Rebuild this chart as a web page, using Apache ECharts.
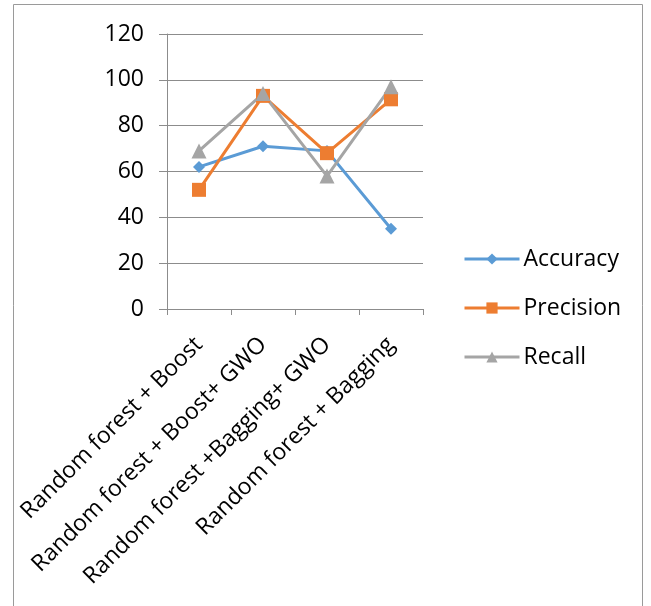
<!DOCTYPE html>
<html>
<head>
<meta charset="utf-8">
<script src="https://cdn.jsdelivr.net/npm/echarts@6/dist/echarts.min.js"></script>
<style>
  html, body { margin: 0; padding: 0; background: #fff; }
  #chart { width: 651px; height: 606px; }
</style>
</head>
<body>
<div id="chart"></div>
<script>
// Model combinations on the category axis
const categories = [
  'Random forest + Boost',
  'Random forest + Boost+ GWO',
  'Random forest +Bagging+ GWO',
  'Random forest + Bagging'
];
// Scores (%) per model combination
const accuracy = [62, 71, 69, 35];
const precision = [52, 93, 68, 91.5];
const recall = [69, 94, 58, 97];
// Value axis ticks
const yMin = 0, yMax = 120, yStep = 20;

const FONT = '"Open Sans", "Noto Sans", sans-serif';
const AXIS_GRAY = '#8c8c8c';

const chart = echarts.init(document.getElementById('chart'), null, { renderer: 'canvas' });

function lineSeries(name, data, color, symbol, size) {
  return {
    name: name,
    type: 'line',
    data: data,
    symbol: symbol,
    symbolSize: size,
    lineStyle: { color: color, width: 3 },
    itemStyle: { color: color },
    emphasis: { disabled: true },
    animation: false
  };
}

chart.setOption({
  animation: false,
  backgroundColor: '#ffffff',
  graphic: [{
    type: 'rect',
    shape: { x: 13.5, y: 4.5, width: 629, height: 620 },
    style: { fill: 'none', stroke: '#9a9a9a', lineWidth: 1 },
    silent: true,
    z: -10
  }],
  grid: { left: 167, right: 228, top: 34, bottom: 297, containLabel: false },
  legend: {
    orient: 'vertical',
    left: 463,
    top: 246,
    padding: 0,
    itemWidth: 55,
    itemHeight: 14,
    itemGap: 23,
    lineStyle: { width: 3 },
    textStyle: { fontFamily: FONT, fontSize: 23, color: '#000', lineHeight: 26, padding: [0, 0, 0, -1] },
    data: ['Accuracy', 'Precision', 'Recall']
  },
  xAxis: {
    type: 'category',
    data: categories,
    boundaryGap: true,
    axisLine: { lineStyle: { color: AXIS_GRAY, width: 1 } },
    axisTick: { show: true, length: 6, lineStyle: { color: AXIS_GRAY } },
    axisLabel: {
      rotate: 45,
      interval: 0,
      margin: 32,
      fontFamily: FONT,
      fontSize: 23,
      color: '#000'
    },
    splitLine: { show: false }
  },
  yAxis: {
    type: 'value',
    min: yMin,
    max: yMax,
    interval: yStep,
    axisLine: { show: true, lineStyle: { color: AXIS_GRAY, width: 1 } },
    axisTick: { show: true, length: 8, lineStyle: { color: AXIS_GRAY } },
    axisLabel: {
      margin: 23,
      fontFamily: FONT,
      fontSize: 23,
      color: '#000'
    },
    splitLine: { show: true, lineStyle: { color: AXIS_GRAY, width: 1 } }
  },
  series: [
    lineSeries('Accuracy', accuracy, '#5B9BD5', 'diamond', 12),
    lineSeries('Precision', precision, '#ED7D31', 'rect', 14),
    lineSeries('Recall', recall, '#A5A5A5', 'triangle', 15)
  ]
});
</script>
</body>
</html>
